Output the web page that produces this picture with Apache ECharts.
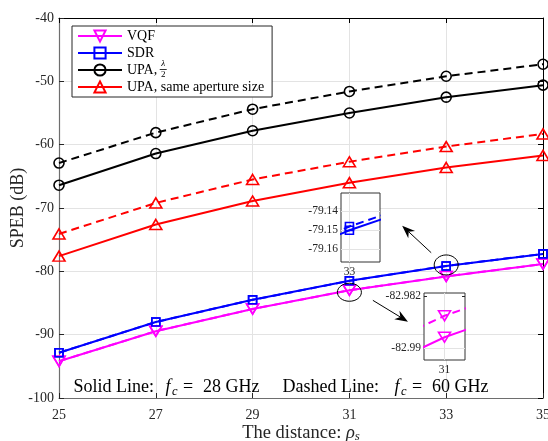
<!DOCTYPE html>
<html><head><meta charset="utf-8">
<script src="https://cdn.jsdelivr.net/npm/echarts@6/dist/echarts.min.js"></script>
<style>html,body{margin:0;padding:0;background:#fff}#c{width:548px;height:441px}</style>
</head><body><div id="c"></div>
<script>
// ---------- data ----------
const distances = [25, 27, 29, 31, 33, 35];
const vqf28 = [-94.2, -89.45, -85.95, -82.9883, -80.8, -78.85];
const vqf60 = [-94.197, -89.447, -85.947, -82.985, -80.797, -78.847];
const sdr28 = [-92.85, -88.0, -84.5, -81.5, -79.150, -77.25];
const sdr60 = [-92.848, -87.998, -84.498, -81.498, -79.148, -77.248];
const upaHalf28 = [-66.4, -61.4, -57.8, -55.0, -52.5, -50.6];
const upaHalf60 = [-62.9, -58.1, -54.4, -51.6, -49.2, -47.3];
const upaSame28 = [-77.6, -72.6, -68.9, -66.0, -63.6, -61.7];
const upaSame60 = [-74.1, -69.2, -65.5, -62.7, -60.3, -58.3];
const legendNames = ['VQF', 'SDR', 'UPA, \u03BB/2', 'UPA, same aperture size'];
const xTicks = [25, 27, 29, 31, 33, 35];
const yTicks = [-100, -90, -80, -70, -60, -50, -40];
const inset1XTicks = [33];
const inset1YTicks = [-79.16, -79.15, -79.14];
const inset2XTicks = [31];
const inset2YTicks = [-82.99, -82.982];
const carrierNotes = [{label: 'Solid Line:', fc: '28 GHz'}, {label: 'Dashed Line:', fc: '60 GHz'}];
// annotation anchors in data coordinates
const arrow1 = {tail: [32.69, -77.06], tip: [32.09, -72.80]};
const arrow2 = {tail: [31.485, -84.58], tip: [32.21, -87.95]};

// ---------- styling ----------
const serif = '"Liberation Serif", "Times New Roman", serif';
const axisCol = '#262626';
const axisLineCol = '#6e6e6e';
const gridCol = '#e3e3e3';
const COLORS = {VQF: '#ff00ff', SDR: '#0000ff', UPAH: '#000000', UPAS: '#ff0000'};

const pairs = (xs, ys) => xs.map((x, i) => [x, ys[i]]);

const defs = [
  {name: legendNames[0], color: COLORS.VQF, symbol: 'triangle', size: [12, 10], rotate: 180, s: vqf28, d: vqf60},
  {name: legendNames[1], color: COLORS.SDR, symbol: 'rect', size: 8, rotate: 0, s: sdr28, d: sdr60},
  {name: legendNames[2], color: COLORS.UPAH, symbol: 'circle', size: 10, rotate: 0, s: upaHalf28, d: upaHalf60},
  {name: legendNames[3], color: COLORS.UPAS, symbol: 'triangle', size: [12, 10], rotate: 0, s: upaSame28, d: upaSame60}
];

function mk(def, ys, dashed, xi, yi, z) {
  return {
    type: 'line', name: def.name, data: pairs(distances, ys),
    xAxisIndex: xi, yAxisIndex: yi, z: z,
    symbol: def.symbol, symbolSize: def.size, symbolRotate: def.rotate,
    showAllSymbol: true, animation: false, clip: true,
    lineStyle: {color: def.color, width: 2, type: dashed ? [8, 5] : 'solid'},
    itemStyle: {color: 'rgba(0,0,0,0)', borderColor: def.color, borderWidth: 1.6},
    emphasis: {disabled: true}
  };
}

const series = [];
defs.forEach(d => series.push(mk(d, d.s, false, 0, 0, 2)));
defs.forEach(d => series.push(mk(d, d.d, true, 0, 0, 2)));
// inset 1 (SDR near 33)
series.push({type: 'line', data: [], xAxisIndex: 2, yAxisIndex: 2, z: 4, silent: true,
  markLine: {silent: true, symbol: 'none', label: {show: false}, animation: false,
    lineStyle: {color: gridCol, width: 1, type: 'solid'},
    data: inset1YTicks.map(v => ({yAxis: v})).concat(inset1XTicks.map(v => ({xAxis: v})))}});
series.push(mk(defs[1], sdr28, false, 2, 2, 5));
series.push(mk(defs[1], sdr60, true, 2, 2, 5));
// inset 2 (VQF near 31)
series.push({type: 'line', data: [], xAxisIndex: 4, yAxisIndex: 4, z: 4, silent: true,
  markLine: {silent: true, symbol: 'none', label: {show: false}, animation: false,
    lineStyle: {color: gridCol, width: 1, type: 'solid'},
    data: inset2YTicks.map(v => ({yAxis: v})).concat(inset2XTicks.map(v => ({xAxis: v})))}});
series.push(mk(defs[0], vqf28, false, 4, 4, 5));
series.push(mk(defs[0], vqf60, true, 4, 4, 5));

const tickLbl = {fontFamily: serif, fontSize: 14, color: axisCol};
const insetLbl = {fontFamily: serif, fontSize: 11.5, color: axisCol};

function insetAxes(gi, xr, yr, xt, yt) {
  const xa = [
    {type: 'value', gridIndex: gi, min: xr[0], max: xr[1], position: 'bottom', z: 4,
      axisLine: {show: false}, splitLine: {show: false},
      axisTick: {inside: true, length: 3, customValues: xt, lineStyle: {color: axisCol}},
      axisLabel: {customValues: xt, margin: 4, ...insetLbl, formatter: v => String(v)}},
    {type: 'value', gridIndex: gi, min: xr[0], max: xr[1], position: 'top', z: 4,
      axisLine: {show: false}, splitLine: {show: false}, axisLabel: {show: false},
      axisTick: {inside: true, length: 3, customValues: xt, lineStyle: {color: axisCol}}}
  ];
  const ya = [
    {type: 'value', gridIndex: gi, min: yr[0], max: yr[1], position: 'left', z: 4,
      axisLine: {show: false}, splitLine: {show: false},
      axisTick: {inside: true, length: 3, customValues: yt, lineStyle: {color: axisCol}},
      axisLabel: {customValues: yt, margin: 3, ...insetLbl, formatter: v => String(+v.toFixed(3))}},
    {type: 'value', gridIndex: gi, min: yr[0], max: yr[1], position: 'right', z: 4,
      axisLine: {show: false}, splitLine: {show: false}, axisLabel: {show: false},
      axisTick: {inside: true, length: 3, customValues: yt, lineStyle: {color: axisCol}}}
  ];
  return {xa, ya};
}
const in1 = insetAxes(1, [32.9984, 33.0058], [-79.1667, -79.1304], inset1XTicks, inset1YTicks);
const in2 = insetAxes(2, [30.999, 31.001], [-82.9918, -82.9815], inset2XTicks, inset2YTicks);

const option = {
  backgroundColor: '#fff',
  animation: false,
  grid: [
    {left: 59, right: 5, top: 18, bottom: 43, containLabel: false, outerBoundsMode: 'none'},
    {left: 341, top: 193, width: 39, height: 69, show: true, z: 3, backgroundColor: '#fff', borderColor: '#333', borderWidth: 1, outerBoundsMode: 'none'},
    {left: 424, top: 293, width: 41, height: 67, show: true, z: 3, backgroundColor: '#fff', borderColor: '#333', borderWidth: 1, outerBoundsMode: 'none'}
  ],
  legend: {
    data: legendNames, orient: 'vertical', left: 72, top: 26,
    padding: [3, 8, 3, 5], itemGap: 3, itemWidth: 44, itemHeight: 14,
    backgroundColor: '#fff', borderColor: '#262626', borderWidth: 1, borderRadius: 0,
    textStyle: {fontFamily: serif, fontSize: 14, color: '#000'},
    formatter: n => n === legendNames[2] ? 'UPA,' : n,
    selectedMode: false, z: 6
  },
  xAxis: [
    {type: 'value', gridIndex: 0, min: 25, max: 35, interval: 2, position: 'bottom',
      axisLine: {lineStyle: {color: axisLineCol, width: 1.2}},
      axisTick: {inside: true, length: 5, lineStyle: {color: axisCol}},
      axisLabel: {...tickLbl, margin: 10},
      splitLine: {show: true, lineStyle: {color: gridCol, width: 1}},
      name: '{n|The distance: }{i|\u03C1}{s|s}', nameLocation: 'middle', nameGap: 25, nameMoveOverlap: false,
      nameTextStyle: {rich: {
        n: {fontFamily: serif, fontSize: 18.5, color: axisCol, lineHeight: 20},
        i: {fontFamily: serif, fontSize: 18.5, fontStyle: 'italic', color: axisCol, lineHeight: 20},
        s: {fontFamily: serif, fontSize: 13, fontStyle: 'italic', color: axisCol, verticalAlign: 'bottom', lineHeight: 12}}}},
    {type: 'value', gridIndex: 0, min: 25, max: 35, interval: 2, position: 'top',
      axisLine: {lineStyle: {color: '#000', width: 1}},
      axisTick: {inside: true, length: 5, lineStyle: {color: '#000'}},
      axisLabel: {show: false}, splitLine: {show: false}},
    ...in1.xa, ...in2.xa
  ],
  yAxis: [
    {type: 'value', gridIndex: 0, min: -100, max: -40, interval: 10, position: 'left',
      axisLine: {show: true, lineStyle: {color: axisLineCol, width: 1.2}},
      axisTick: {show: true, inside: true, length: 5, lineStyle: {color: axisCol}},
      axisLabel: {...tickLbl, margin: 5},
      splitLine: {show: true, lineStyle: {color: gridCol, width: 1}},
      name: 'SPEB (dB)', nameLocation: 'middle', nameGap: 32, nameMoveOverlap: false,
      nameTextStyle: {fontFamily: serif, fontSize: 18, color: axisCol}},
    {type: 'value', gridIndex: 0, min: -100, max: -40, interval: 10, position: 'right',
      axisLine: {show: true, lineStyle: {color: '#000', width: 1}},
      axisTick: {show: true, inside: true, length: 5, lineStyle: {color: '#000'}},
      axisLabel: {show: false}, splitLine: {show: false}},
    ...in1.ya, ...in2.ya
  ],
  series: series
};

const chart = echarts.init(document.getElementById('c'), null, {renderer: 'canvas'});
chart.setOption(option);

// ---------- annotations ----------
const P = (pt) => chart.convertToPixel({gridIndex: 0}, pt);
function arrowEls(a) {
  const t = P(a.tail), h = P(a.tip);
  const dx = h[0] - t[0], dy = h[1] - t[1];
  const L = Math.hypot(dx, dy), ux = dx / L, uy = dy / L, nx = -uy, ny = ux;
  const hl = 13, hw = 5, notch = 4;
  const b = [h[0] - ux * hl, h[1] - uy * hl];
  const m = [h[0] - ux * (hl - notch), h[1] - uy * (hl - notch)];
  return [
    {type: 'line', shape: {x1: t[0], y1: t[1], x2: m[0], y2: m[1]}, style: {stroke: '#000', lineWidth: 1}, z: 10},
    {type: 'polygon', shape: {points: [h, [b[0] + nx * hw, b[1] + ny * hw], m, [b[0] - nx * hw, b[1] - ny * hw]]},
      style: {fill: '#000'}, z: 10}
  ];
}
const c1 = P([33, sdr28[4]]);
const c2 = P([31, vqf28[3]]);

// fraction λ/2 in legend
const cv = document.createElement('canvas').getContext('2d');
cv.font = '14px "Liberation Serif"';
const fracX = 72 + 5 + 44 + 5 + cv.measureText('UPA, ').width;
const rowY = 26 + 3 + 2 * (14 + 3) + 7;

// bottom note: "Solid Line: f_c = 28 GHz   Dashed Line: f_c = 60 GHz"
const noteY = 387;
const noteFont = '18px ' + serif;
const noteEls = [];
const noteX = [{lab: 73.5, f: 165.5}, {lab: 282.5, f: 394.5}];
carrierNotes.forEach((n, k) => {
  const x0 = noteX[k];
  noteEls.push({type: 'text', z: 10, x: x0.lab, y: noteY, style: {text: n.label, font: noteFont, fill: '#000', verticalAlign: 'middle'}});
  noteEls.push({type: 'text', z: 10, x: x0.f, y: noteY, style: {text: 'f', font: 'italic ' + noteFont, fill: '#000', verticalAlign: 'middle'}});
  noteEls.push({type: 'text', z: 10, x: x0.f + 6.5, y: noteY + 5, style: {text: 'c', font: 'italic 12.5px ' + serif, fill: '#000', verticalAlign: 'middle'}});
  noteEls.push({type: 'text', z: 10, x: x0.f + 17.5, y: noteY, style: {text: '=', font: noteFont, fill: '#000', verticalAlign: 'middle'}});
  noteEls.push({type: 'text', z: 10, x: x0.f + 37.5, y: noteY, style: {text: n.fc, font: noteFont, fill: '#000', verticalAlign: 'middle'}});
});

chart.setOption({graphic: [
  {type: 'ellipse', shape: {cx: c1[0], cy: c1[1] - 1, rx: 12, ry: 10}, style: {fill: 'none', stroke: '#000', lineWidth: 1}, z: 10},
  {type: 'ellipse', shape: {cx: c2[0], cy: c2[1] + 2, rx: 12, ry: 9}, style: {fill: 'none', stroke: '#000', lineWidth: 1}, z: 10},
  ...arrowEls(arrow1), ...arrowEls(arrow2),
  {type: 'text', z: 10, x: fracX + 3.5, y: rowY - 1.5, style: {text: '\u03BB', font: 'italic 9px ' + serif, fill: '#000', align: 'center', verticalAlign: 'bottom'}},
  {type: 'line', z: 10, shape: {x1: fracX, y1: rowY - 0.5, x2: fracX + 7, y2: rowY - 0.5}, style: {stroke: '#000', lineWidth: 0.8}},
  {type: 'text', z: 10, x: fracX + 3.5, y: rowY + 0.5, style: {text: '2', font: '9px ' + serif, fill: '#000', align: 'center', verticalAlign: 'top'}},
  ...noteEls
]});
</script>
</body></html>
